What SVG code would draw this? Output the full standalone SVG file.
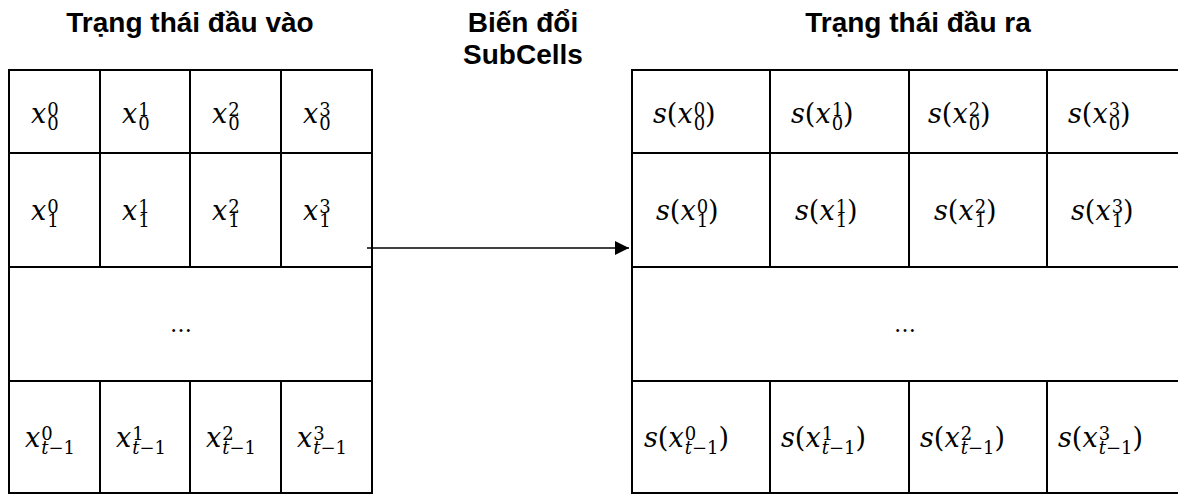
<svg xmlns="http://www.w3.org/2000/svg" width="1178" height="494" viewBox="0 0 1178 494">
<defs>
<style>
.hdr{font-family:"Liberation Sans",Arial,sans-serif;font-weight:bold;font-size:28px;fill:#000;text-anchor:middle}
.grid{fill:none;stroke:#000;stroke-width:2}
.m{font-family:"DejaVu Serif",serif;font-size:27px;fill:#000}
.i{font-style:italic}
.s{font-size:18px}
.dots{font-family:"DejaVu Serif",serif;font-size:22px;fill:#000;text-anchor:middle}
.conn{stroke:#000;stroke-width:1.5;fill:none}
</style>
<marker id="arrow" viewBox="0 0 10 10" refX="10" refY="5" markerWidth="15" markerHeight="14" markerUnits="userSpaceOnUse" orient="auto">
<path d="M0,0 L10,5 L0,10 Z" fill="#000"/>
</marker>
</defs>
<rect width="1178" height="494" fill="#fff"/>

<g id="title-input"><text class="hdr" x="190" y="32">Trạng thái đầu vào</text></g>
<g id="title-transform"><text class="hdr" x="523" y="32">Biến đổi</text><text class="hdr" x="523" y="64">SubCells</text></g>
<g id="title-output"><text class="hdr" x="918" y="32">Trạng thái đầu ra</text></g>

<g id="input-state">
<path class="grid" d="M9,70 H372 V493 H9 Z M9,153 H372 M9,267 H372 M9,381 H372 M100,70 V267 M190,70 V267 M281,70 V267 M100,381 V493 M190,381 V493 M281,381 V493"/>
<g id="in-r0">
<text class="m" x="31" y="123"><tspan class="i">x</tspan><tspan class="s" dx="1" dy="-7">0</tspan><tspan class="s" dx="-11.45" dy="14">0</tspan></text>
<text class="m" x="122" y="123"><tspan class="i">x</tspan><tspan class="s" dx="1" dy="-7">1</tspan><tspan class="s" dx="-11.45" dy="14">0</tspan></text>
<text class="m" x="212" y="123"><tspan class="i">x</tspan><tspan class="s" dx="1" dy="-7">2</tspan><tspan class="s" dx="-11.45" dy="14">0</tspan></text>
<text class="m" x="303" y="123"><tspan class="i">x</tspan><tspan class="s" dx="1" dy="-7">3</tspan><tspan class="s" dx="-11.45" dy="14">0</tspan></text>
</g>
<g id="in-r1">
<text class="m" x="31" y="220"><tspan class="i">x</tspan><tspan class="s" dx="1" dy="-7">0</tspan><tspan class="s" dx="-11.45" dy="14">1</tspan></text>
<text class="m" x="122" y="220"><tspan class="i">x</tspan><tspan class="s" dx="1" dy="-7">1</tspan><tspan class="s" dx="-11.45" dy="14">1</tspan></text>
<text class="m" x="212" y="220"><tspan class="i">x</tspan><tspan class="s" dx="1" dy="-7">2</tspan><tspan class="s" dx="-11.45" dy="14">1</tspan></text>
<text class="m" x="303" y="220"><tspan class="i">x</tspan><tspan class="s" dx="1" dy="-7">3</tspan><tspan class="s" dx="-11.45" dy="14">1</tspan></text>
</g>
<g id="in-dots"><text class="dots" x="181" y="332">…</text></g>
<g id="in-r3">
<text class="m" x="25" y="447"><tspan class="i">x</tspan><tspan class="s" dx="1" dy="-7">0</tspan><tspan class="s i" dx="-11.45" dy="14">t</tspan><tspan class="s">−1</tspan></text>
<text class="m" x="116" y="447"><tspan class="i">x</tspan><tspan class="s" dx="1" dy="-7">1</tspan><tspan class="s i" dx="-11.45" dy="14">t</tspan><tspan class="s">−1</tspan></text>
<text class="m" x="206" y="447"><tspan class="i">x</tspan><tspan class="s" dx="1" dy="-7">2</tspan><tspan class="s i" dx="-11.45" dy="14">t</tspan><tspan class="s">−1</tspan></text>
<text class="m" x="297" y="447"><tspan class="i">x</tspan><tspan class="s" dx="1" dy="-7">3</tspan><tspan class="s i" dx="-11.45" dy="14">t</tspan><tspan class="s">−1</tspan></text>
</g>
</g>

<g id="output-state">
<path class="grid" d="M1190,70 H632 V493 H1190 M632,153 H1190 M632,267 H1190 M632,381 H1190 M770,70 V267 M909,70 V267 M1047,70 V267 M1186,70 V267 M770,381 V493 M909,381 V493 M1047,381 V493 M1186,381 V493"/>
<g id="out-r0">
<text class="m" x="653" y="123"><tspan class="i">s</tspan>(<tspan class="i">x</tspan><tspan class="s" dx="1" dy="-7">0</tspan><tspan class="s" dx="-11.45" dy="14">0</tspan><tspan dy="-7">)</tspan></text>
<text class="m" x="791" y="123"><tspan class="i">s</tspan>(<tspan class="i">x</tspan><tspan class="s" dx="1" dy="-7">1</tspan><tspan class="s" dx="-11.45" dy="14">0</tspan><tspan dy="-7">)</tspan></text>
<text class="m" x="928" y="123"><tspan class="i">s</tspan>(<tspan class="i">x</tspan><tspan class="s" dx="1" dy="-7">2</tspan><tspan class="s" dx="-11.45" dy="14">0</tspan><tspan dy="-7">)</tspan></text>
<text class="m" x="1068" y="123"><tspan class="i">s</tspan>(<tspan class="i">x</tspan><tspan class="s" dx="1" dy="-7">3</tspan><tspan class="s" dx="-11.45" dy="14">0</tspan><tspan dy="-7">)</tspan></text>
</g>
<g id="out-r1">
<text class="m" x="656" y="220"><tspan class="i">s</tspan>(<tspan class="i">x</tspan><tspan class="s" dx="1" dy="-7">0</tspan><tspan class="s" dx="-11.45" dy="14">1</tspan><tspan dy="-7">)</tspan></text>
<text class="m" x="795" y="220"><tspan class="i">s</tspan>(<tspan class="i">x</tspan><tspan class="s" dx="1" dy="-7">1</tspan><tspan class="s" dx="-11.45" dy="14">1</tspan><tspan dy="-7">)</tspan></text>
<text class="m" x="934" y="220"><tspan class="i">s</tspan>(<tspan class="i">x</tspan><tspan class="s" dx="1" dy="-7">2</tspan><tspan class="s" dx="-11.45" dy="14">1</tspan><tspan dy="-7">)</tspan></text>
<text class="m" x="1071" y="220"><tspan class="i">s</tspan>(<tspan class="i">x</tspan><tspan class="s" dx="1" dy="-7">3</tspan><tspan class="s" dx="-11.45" dy="14">1</tspan><tspan dy="-7">)</tspan></text>
</g>
<g id="out-dots"><text class="dots" x="905" y="332">…</text></g>
<g id="out-r3">
<text class="m" x="644" y="447"><tspan class="i">s</tspan>(<tspan class="i">x</tspan><tspan class="s" dx="1" dy="-7">0</tspan><tspan class="s i" dx="-11.45" dy="14">t</tspan><tspan class="s">−1</tspan><tspan dy="-7">)</tspan></text>
<text class="m" x="781" y="447"><tspan class="i">s</tspan>(<tspan class="i">x</tspan><tspan class="s" dx="1" dy="-7">1</tspan><tspan class="s i" dx="-11.45" dy="14">t</tspan><tspan class="s">−1</tspan><tspan dy="-7">)</tspan></text>
<text class="m" x="920" y="447"><tspan class="i">s</tspan>(<tspan class="i">x</tspan><tspan class="s" dx="1" dy="-7">2</tspan><tspan class="s i" dx="-11.45" dy="14">t</tspan><tspan class="s">−1</tspan><tspan dy="-7">)</tspan></text>
<text class="m" x="1058" y="447"><tspan class="i">s</tspan>(<tspan class="i">x</tspan><tspan class="s" dx="1" dy="-7">3</tspan><tspan class="s i" dx="-11.45" dy="14">t</tspan><tspan class="s">−1</tspan><tspan dy="-7">)</tspan></text>
</g>
</g>

<g id="connectors">
<line class="conn" x1="367" y1="248" x2="629" y2="248" marker-end="url(#arrow)"/>
</g>
</svg>
